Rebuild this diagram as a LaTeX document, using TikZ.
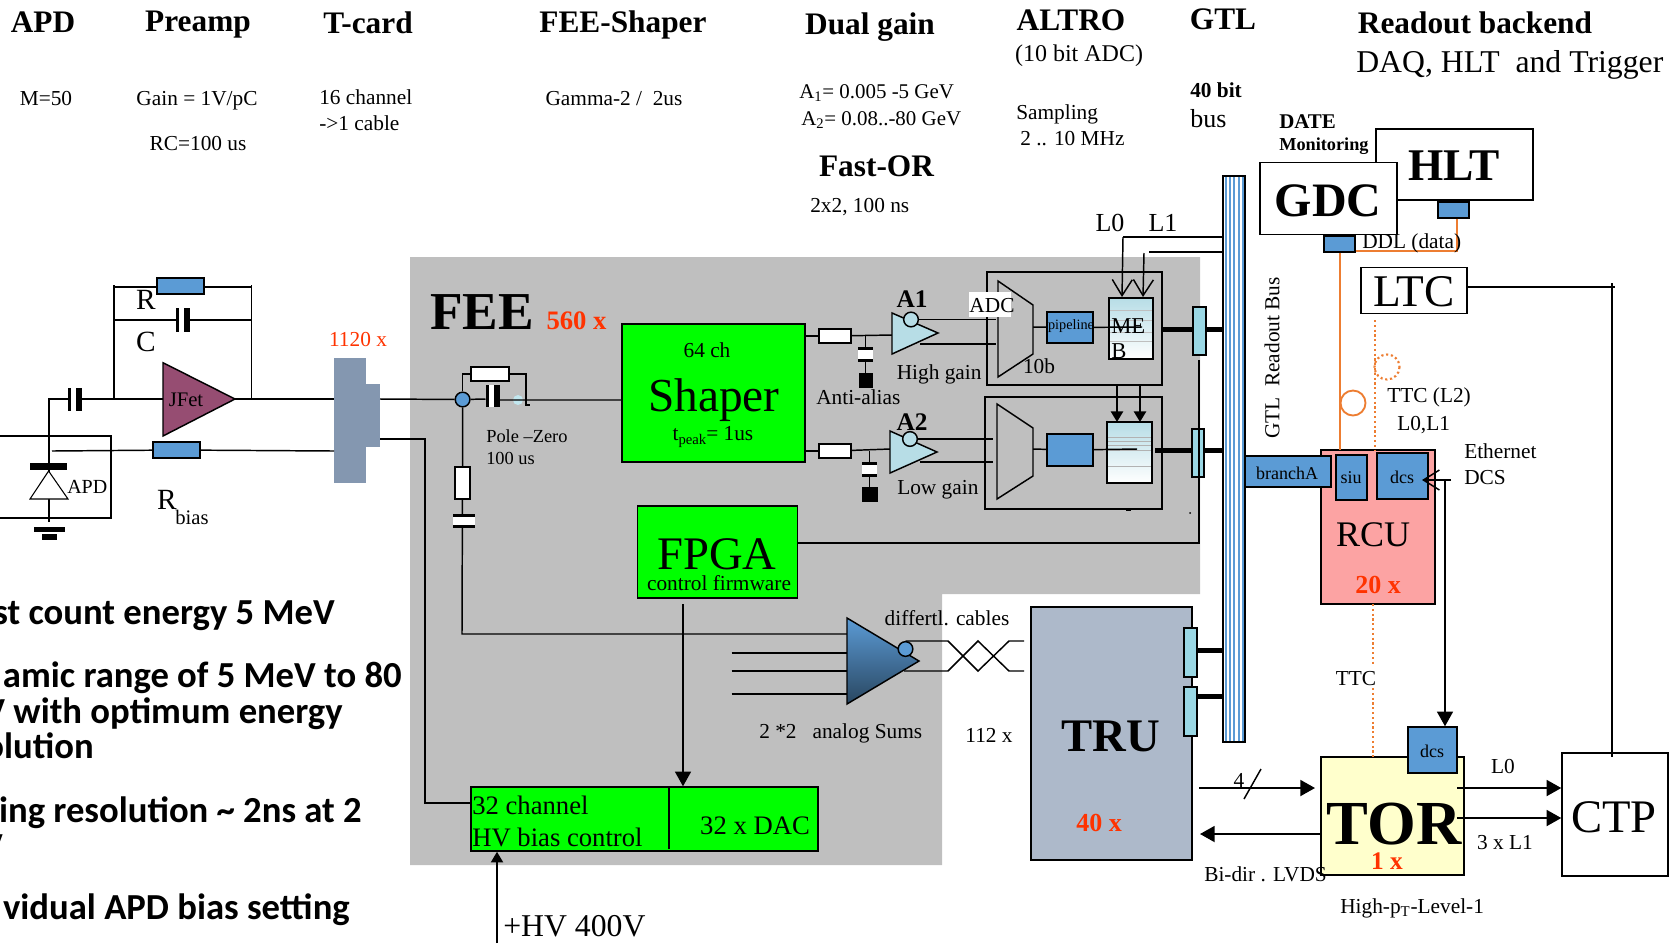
\documentclass[tikz,border=0pt]{standalone}
\usepackage{fontspec}
\setmainfont{Liberation Serif}
\newfontfamily\notefont{Carlito}
\usetikzlibrary{arrows.meta}
\definecolor{feegray}{HTML}{BFBFBF}
\definecolor{partblue}{HTML}{5B9BD5}
\definecolor{labred}{HTML}{FF3300}
\definecolor{jfetred}{HTML}{964D72}
\definecolor{ampcyan}{HTML}{B7DDE6}
\definecolor{conncyan}{HTML}{9AD7E4}
\definecolor{slate}{HTML}{8497B0}
\definecolor{trugray}{HTML}{ADB9CA}
\definecolor{rcupink}{HTML}{FCA3A3}
\definecolor{toryellow}{HTML}{FFFFCC}
\definecolor{fibre}{HTML}{ED7D31}
\begin{document}
\begin{tikzpicture}[x=.75pt, y=-.75pt]
	\tikzset{box/.style={draw, line width=1.1pt, inner sep=0pt}}
	\tikzset{dims/.style 2 args={minimum width=#1*.75pt, minimum height=#2*.75pt}}
	\tikzset{lab/.style={font=\fontsize{#1}{#1}\selectfont, inner sep=0pt}, lab/.default=16}
	\tikzset{blab/.style={font=\fontsize{#1}{#1}\selectfont\bfseries, inner sep=0pt}, blab/.default=23.5}
	\tikzset{note/.style={font=\fontsize{27.5}{27.5}\selectfont\notefont\bfseries, inner sep=0pt, anchor=base east}}
	\tikzset{wire/.style={line width=1.1pt}}
	\tikzset{fat/.style={line width=3.75pt}}
	\tikzset{arr/.style={-{Triangle[length=11pt,width=12pt]}}}
	\tikzset{smallarr/.style={-{Triangle[length=8pt,width=9pt]}}}
	\tikzset{barb/.style={-{Straight Barb[length=12pt,width=15pt]}}}
	\tikzset{bubble/.style={draw, line width=1.1pt, circle, inner sep=0pt, minimum size=11pt}}
	\useasboundingbox (0,0) rectangle (1678,951);
%% FEE background
	\fill[feegray] (410,257) -- (1200,257) -- (1200,594) -- (942,594) -- (942,865) -- (410,865) -- cycle;
%% Column heads
	\node[blab] (hapd) at (43,22) {APD};
	\node[blab] (hpre) at (198,25) {Preamp};
	\node[blab] (htcard) at (368,23) {T-card};
	\node[blab] (hshap) at (623,25) {FEE-Shaper};
	\node[blab] (hdual) at (870,27) {Dual gain};
	\node[blab] (haltro) at (1071,20) {ALTRO};
	\node[blab] (hgtl) at (1223,19) {GTL};
	\node[blab] (hback) at (1475,23) {Readout backend};
	\node[lab=23.8, anchor=west] (hdaq) at (1356,65) {DAQ, HLT\ \ and Trigger};
	\node[lab=18] (hadc) at (1079,56) {(10 bit ADC)};
	\node[lab] (tm) at (46,99) {M=50};
	\node[lab] (tgain) at (197,101) {Gain = 1V/pC};
	\node[lab] (trc) at (198,144) {RC=100 us};
	\node[lab, anchor=west] (tch) at (319,97) {16 channel};
	\node[lab, anchor=west] (tcab) at (319,123) {->1 cable};
	\node[lab] (tgam) at (614,99) {Gamma-2 /\ \ 2us};
	\node[lab=15.7, anchor=west] (ta1) at (799,93) {A\textsubscript{1}= 0.005 -5 GeV};
	\node[lab=15.7, anchor=west] (ta2) at (801,120) {A\textsubscript{2}= 0.08..-80 GeV};
	\node[lab, anchor=west] (tsam) at (1016,114) {Sampling};
	\node[lab, anchor=west] (tmhz) at (1020,139) {2 .. 10 MHz};
	\node[blab=16, anchor=west] (t40) at (1190,90) {40 bit};
	\node[lab=19.5, anchor=west] (tbus) at (1190,119) {bus};
	\node[blab] (tfast) at (876.5,166) {Fast-OR};
	\node[lab, anchor=west] (tfor) at (810,207) {2x2, 100 ns};
	\node[blab=15.7, anchor=west] (tdate) at (1279,122) {DATE};
	\node[blab=13.7, anchor=west] (tmon) at (1279,146) {Monitoring};
%% APD and preamp
	\draw[wire] (0,436) -- (111,436) -- (111,518) -- (0,518);
	\coordinate (apdtop) at (49,399);
	\coordinate (apdbar) at (49,465);
	\coordinate (apdlow) at (49,522);
	\coordinate (biasend) at (52,451);
	\coordinate (jfetin) at (163,399);
	\coordinate (jfetout) at (235,399);
	\coordinate (fbleft) at (114,399);
	\coordinate (fbright) at (251.5,399);
	\draw[wire] (apdlow) -- (apdbar) -- (apdtop) -- (jfetin);
	\draw[wire] (fbleft) -- (114,285);
	\draw[wire] (fbright) -- (251.5,285);
	\draw[wire] (114,287) -- (251.5,287);
	\draw[wire] (114,320) -- (251.5,320);
	\node[box, fill=partblue, dims={47}{16}] (rfb) at (180.5,286) {};
	\node[box, fill=partblue, dims={47}{16}] (rbias) at (176.5,450) {};
	\foreach \x/\y/\h in {176/308/24, 68/388/23, 485.5/385/22} {
		\fill[white] (\x,\y) rectangle (\x+14,\y+\h);
		\fill (\x,\y) rectangle (\x+3,\y+\h);
		\fill (\x+8,\y) rectangle (\x+14,\y+\h);
	}
	\draw[wire, fill=jfetred] (jfetin |- 0,362.7) -- (jfetout) -- (jfetin |- 0,436) -- cycle;
	\node[lab=15.5] (jfet) at (186,400) {JFet};
	\fill (30,463) rectangle (67,470);
	\draw[line width=.8pt, fill=white] (48.6,471) -- (68,499) -- (30,499) -- cycle;
	\fill (34,527) rectangle (64.5,532);
	\fill (42,534) rectangle (57,540);
	\node[lab=15, anchor=west] (apdlab) at (67,487) {APD};
	\node[lab=22] (rlab) at (146,300) {R};
	\node[lab=22] (clab) at (146,342) {C};
	\node[lab=22] (rblab) at (167,500) {R};
	\node[lab=15.5] (biaslab) at (192,517) {bias};
%% T-card
	\node[lab=16, text=labred] (n1120) at (358,340) {1120 x};
	\fill[slate] (334,358) rectangle (366,483);
	\node[fill=slate, inner sep=0pt, dims={14}{63}] (tcard) at (373,415.5) {};
	\coordinate (tcardin) at (334,399);
	\coordinate (tcardlow) at (334,451);
	\path[wire] (biasend) edge (rbias) (rbias) edge (tcardlow);
	\path[wire] (jfetout) edge (tcardin);
	\draw[wire] (380,439) -- (425,439) -- (425,803) -- (471,803);
%% Pole zero
	\node[bubble, fill=partblue] (pzin) at (462.6,399.5) {};
	\node[box, fill=white, dims={38}{14}] (pzr) at (490,374) {};
	\node[box, fill=white, dims={15}{32}] (pzs) at (462.5,483) {};
	\draw[wire] (pzin) -- (pzin |- pzr) -- (pzr);
	\draw[wire] (pzr) -- (526,374) -- (526,405) -- (530,405);
	\fill[conncyan!60] (518,400) circle (5);
	\draw[wire] (380,399) -- (pzin) -- (485.5,399) (499.5,400) -- (622,400);
	\path[wire] (pzin) edge (pzs);
	\draw[wire] (pzs) -- (462,634) -- (851,634);
	\foreach \x/\y in {463.5/514} {
		\fill[white] (\x-11,\y) rectangle (\x+11,\y+14);
		\fill (\x-11,\y) rectangle (\x+11,\y+3);
		\fill (\x-11,\y+11) rectangle (\x+11,\y+14);
	}
	\node[lab=13.8, anchor=west] (pzlab) at (486,436) {Pole --Zero};
	\node[lab=13.8, anchor=west] (pzus) at (486,458) {100 us};
	\node[blab=40] (fee) at (482,312) {FEE};
	\node[blab=20, text=labred] (n560) at (576.5,320.5) {560 x};
%% Shaper and amplifiers
	\node[box, fill=green, dims={183}{138}] (shaper) at (713.5,393) {};
	\node[lab] (s64) at (707,350) {64 ch};
	\node[lab=35.5] (shap) at (714,400) {Shaper};
	\node[lab] (stp) at (713,437) {t\raisebox{-.35ex}{\fontsize{11}{11}\selectfont peak}= 1us};
	\node[box, fill=white, dims={32}{14}] (ra) at (835,336) {};
	\node[box, fill=white, dims={32}{14}] (rb) at (835,451) {};
	\coordinate (a1in) at (892,335);
	\coordinate (a2in) at (890,449);
	\path[wire] (shaper.east |- ra) edge (ra) (ra) edge (a1in);
	\path[wire] (shaper.east |- rb) edge (rb) (rb) edge (a2in);
	\draw[wire] (865.5,336) -- (865.5,375);
	\draw[wire] (869.5,451) -- (869.5,490);
	\fill (859,373) rectangle (873,388);
	\fill (862,487) rectangle (878,502);
	\foreach \x/\y in {865.5/347, 869.5/462} {
		\fill[white] (\x-7.5,\y) rectangle (\x+7.5,\y+15);
		\fill (\x-7.5,\y) rectangle (\x+7.5,\y+3);
		\fill (\x-7.5,\y+12) rectangle (\x+7.5,\y+15);
	}
	\draw[wire, fill=ampcyan] (892,313) -- (938,333) -- (892,354) -- cycle;
	\draw[wire, fill=ampcyan] (890,431) -- (937,452) -- (890,473) -- cycle;
	\node[blab=19] (a1) at (912,299) {A1};
	\node[blab=19] (a2) at (912,422) {A2};
	\node[bubble, fill=ampcyan] (ba) at (911,319.5) {};
	\node[bubble, fill=ampcyan] (bb) at (910,439) {};
	\node[lab, anchor=west] (hg) at (896.5,374) {High gain};
	\node[lab, anchor=west] (lg) at (897,490) {Low gain};
	\node[lab, anchor=west] (aa) at (816,397) {Anti-alias};
%% ALTRO
	\node[box, dims={175}{113}] (alta) at (1074.5,328.5) {};
	\node[box, dims={177}{112}] (altb) at (1073.5,453) {};
	\draw[wire] (998,281) -- (1033,305) -- (1033,354) -- (998,377) -- cycle;
	\draw[wire] (997,404) -- (1033,428) -- (1033,476) -- (997,499) -- cycle;
	\node[fill=white, inner sep=0pt, dims={42}{25}] (adcw) at (990,304.5) {};
	\node[lab] (adc) at (992,306) {ADC};
	\node[lab] (b10) at (1039,366) {10b};
	\coordinate (adcaa) at (996,319.5);
	\coordinate (adcab) at (996,344);
	\coordinate (adcba) at (993,439);
	\coordinate (adcbb) at (993,462);
	\path[wire] (ba) edge (adcaa) (920,344) edge (adcab);
	\path[wire] (bb) edge (adcba) (920,462) edge (adcbb);
	\node[box, fill=partblue, dims={46}{31}] (pipea) at (1070,327.5) {};
	\node[box, fill=partblue, dims={46}{32}] (pipeb) at (1070,450) {};
	\node[lab=10.7] (pipetxt) at (1071,326) {pipeline};
	\node[box, top color=ampcyan, bottom color=white, dims={44}{61}] (meba) at (1131,328.5) {};
	\node[box, top color=ampcyan, bottom color=white, dims={45}{61}] (mebb) at (1129.5,452.5) {};
	\foreach \y in {310, 320, 332, 341} {
		\draw[black!25] (1110,\y) -- (1152,\y);
	}
	\foreach \y in {437, 441, 445, 450, 466} {
		\draw[black!30] (1108,\y) -- (1151,\y);
	}
	\node[lab=17, anchor=west] (metxt) at (1111,326) {ME};
	\node[lab=17, anchor=west] (btxt) at (1111,351) {B};
	\path[wire] (1033,327) edge (pipea) (pipea) edge (1142,327);
	\path[wire] (1033,449) edge (pipeb) (pipeb) edge (1137,449);
	\fill (1126,509) rectangle (1131,511);
	\fill (1190,513) circle (1);
	\path[line width=2.2pt] (1117,385) edge[smallarr] (1117,422) (1140,385) edge[smallarr] (1140,422);
%% FPGA and HV
	\node[box, fill=green, dims={160.5}{92}] (fpga) at (717.5,552) {};
	\node[lab=35] (fpgat) at (717,554) {FPGA};
	\node[lab] (fpgac) at (719,583) {control firmware};
	\node[box, fill=green, dims={347}{64}] (hv) at (644.5,819) {};
	\draw[wire] (669,787) -- (669,849);
	\node[lab=20, anchor=west] (hva) at (472,805) {32 channel};
	\node[lab=20, anchor=west] (hvb) at (472,837) {HV bias control};
	\node[lab=20] (dac) at (755,826) {32 x DAC};
	\coordinate (fpgaout) at (683,604);
	\coordinate (hvin) at (497,943);
	\path[wire] (fpgaout) edge[arr] (fpgaout |- hv.north);
	\path[line width=1.5pt] (hvin) edge[smallarr] (hvin |- hv.south);
	\node[lab=23.8, anchor=west] (hvlab) at (503,926) {+HV 400V};
%% Analog sums
	\draw[wire, top color=partblue, bottom color=partblue!45!black] (847,618) -- (919,661) -- (847,704) -- cycle;
	\foreach \y in {653, 671, 694} {
		\draw[wire] (731.6,\y) -- (847,\y);
	}
	\coordinate (sumo) at (905.5,641);
	\draw[wire] (sumo) -- (948,641) -- (978,671) -- (1009,641) -- (1024,641);
	\draw[wire] (904,671) -- (948,671) -- (978,641) -- (1009,671) -- (1024,671);
	\node[bubble, fill=partblue] (sumb) at (905.5,649) {};
	\node[lab] (diff) at (947,618) {differtl. cables};
	\node[lab, anchor=west] (sums) at (759,733) {2 *2\ \ \ analog Sums};
	\node[lab] (n112) at (989,735) {112 x};
%% TRU
	\node[box, fill=trugray, dims={161}{253}] (tru) at (1111.5,733.5) {};
	\node[blab=35] (trut) at (1111,736) {TRU};
	\node[blab=19.5, text=labred] (n40) at (1099,823) {40 x};
%% Readout bus
	\coordinate (lzero) at (1123,237);
	\coordinate (lone) at (1149,252);
	\node[box, fill=white, dims={22}{566}] (bus) at (1234,459) {};
	\foreach \x in {1225.7, 1230, 1234.3, 1238.7, 1242.7} {
		\draw[partblue, line width=1.5pt] (\x,177) -- (\x,741);
	}
	\path[wire] (bus.west |- lzero) edge (lzero) (bus.west |- lone) edge (lone);
	\path[wire] (lzero) edge[barb] (1122,297) (1144,253) edge[barb] (1143,297);
	\node[lab=19.5] (l0) at (1110,223) {L0};
	\node[lab=19.5] (l1) at (1163,223) {L1};
	\node[lab=16, rotate=90] (gtlbus) at (1272,358) {GTL\ \ Readout Bus};
	\foreach \y/\a in {329.5/1162, 450/1155, 650/1197, 696/1197} {
		\draw[fat] (\a,\y) -- (bus.west |- 0,\y);
	}
	\node[box, fill=conncyan, dims={13}{48}] (conna) at (1199.5,331) {};
	\node[box, fill=conncyan, dims={12}{48}] (connb) at (1198,453) {};
	\node[box, fill=conncyan, dims={13}{49}] (connc) at (1190.5,652.5) {};
	\node[box, fill=conncyan, dims={13}{49}] (connd) at (1190.5,711.5) {};
	\draw[wire] (1199,360) -- (1199,543) -- (fpga.east |- 0,543);
%% GDC HLT LTC
	\node[box, dims={157}{71}] (hlt) at (1454.5,164.5) {};
	\node[blab=34] (hltt) at (1454,166) {HLT};
	\node[box, fill=white, dims={137}{72}] (gdc) at (1328.5,198.5) {};
	\node[blab=36] (gdct) at (1328,201) {GDC};
	\node[box, fill=partblue, dims={31}{16}] (siuh) at (1453.5,210) {};
	\node[box, fill=partblue, dims={31}{16}] (siug) at (1339.5,244) {};
	\draw[fibre, line width=1.4pt] (siuh.south -| 1457,0) -- (1457,251) -- (siug.east |- 0,251);
	\node[lab, anchor=west] (ddl) at (1362,243) {DDL (data)};
	\node[box, dims={106}{46}] (ltc) at (1414,290.5) {};
	\node[lab=34] (ltct) at (1414,291.5) {LTC};
	\draw[wire] (ltc.east |- 0,287) -- (1615,287);
%% RCU
	\node[box, fill=rcupink, dims={114}{154}] (rcu) at (1378,527) {};
	\draw[fibre, line width=1.4pt] (siug.south -| 1340,0) -- (1340,450);
	\draw[fibre, line width=1.4pt] (1353,403) circle (12.5);
	\draw[fibre, line width=1.6pt, dotted] (1375,320) -- (1375,450);
	\draw[fibre, line width=1.6pt, dotted] (1387,367) circle (12.5);
	\node[box, fill=partblue, dims={86}{31}] (branch) at (1288,471.5) {};
	\node[lab=13.5] (brt) at (1287,473) {branchA};
	\node[box, fill=partblue, dims={31}{45}] (siu) at (1351.5,477.5) {};
	\node[lab=13.5] (siut) at (1351,478) {siu};
	\node[box, fill=partblue, dims={51}{46}] (dcsa) at (1402.5,476) {};
	\node[lab=13.5] (dcsat) at (1402,477) {dcs};
	\node[lab=27] (rcut) at (1373,535) {RCU};
	\node[blab=19.5, text=labred] (n20) at (1378,585) {20 x};
	\node[lab, anchor=west] (ttcl2) at (1387,397) {TTC (L2)};
	\node[lab, anchor=west] (l0l1) at (1397,425) {L0,L1};
	\node[lab, anchor=west] (eth) at (1464,451) {Ethernet};
	\node[lab, anchor=west] (dcstxt) at (1464,478) {DCS};
%% TOR and CTP
	\node[box, fill=toryellow, dims={143}{118}] (tor) at (1392.5,816) {};
	\node[blab=47] (tort) at (1394,824) {TOR};
	\node[blab=19, text=labred] (n1) at (1387,861) {1 x};
	\node[box, fill=partblue, dims={49}{46}] (dcsb) at (1432.5,750) {};
	\node[lab=13.5] (dcsbt) at (1432,751) {dcs};
	\node[box, dims={106}{123}] (ctp) at (1615,814.5) {};
	\node[lab=35] (ctpt) at (1614,817) {CTP};
	\draw[fibre, line width=1.6pt, dotted] (1373,604) -- (1373,665);
	\draw[fibre, line width=1.6pt, dotted] (1373,688) -- (1373,757);
	\node[lab] (ttc) at (1356,679) {TTC};
	\coordinate (ethin) at (1451,480);
	\coordinate (dcsdrop) at (1445,480);
	\draw[wire, barb] (ethin) -- (1422,480);
	\draw[wire, arr] (dcsdrop) -- (dcsdrop |- dcsb.north);
	\draw[wire] (1612,283) -- (1612,757);
	\coordinate (truout) at (1199,788);
	\coordinate (torin) at (1315,788);
	\coordinate (truback) at (1200,834);
	\coordinate (torla) at (1457,788);
	\coordinate (torlb) at (1457,818);
	\path[line width=1.4pt] (truout) edge[arr] (torin) (tor.west |- truback) edge[arr] (truback);
	\path[line width=1.4pt] (torla) edge[arr] (ctp.west |- torla) (torlb) edge[arr] (ctp.west |- torlb);
	\draw[wire] (1244,799) -- (1261,769);
	\node[lab] (four) at (1239,780) {4};
	\node[lab] (l0t) at (1503,766) {L0};
	\node[lab] (l1t) at (1505,843) {3 x L1};
	\node[lab, anchor=west] (lvds) at (1204,874) {Bi-dir . LVDS};
	\node[lab, anchor=west] (hipt) at (1340,908) {High-p\textsubscript{T}-Level-1};
%% Notes at the left edge
	\node[note] (noa) at (335,624) {st count energy 5 MeV};
	\node[note] (nob) at (402,687) {amic range of 5 MeV to 80};
	\node[note] (noc) at (343,723) {V with optimum energy};
	\node[note] (nod) at (94,758) {olution};
	\node[note] (noe) at (362,822) {ing resolution \textasciitilde{} 2ns at 2};
	\node[note] (nog) at (3,858) {V};
	\node[note] (nof) at (350,919) {vidual APD bias setting};
\end{tikzpicture}
\end{document}
